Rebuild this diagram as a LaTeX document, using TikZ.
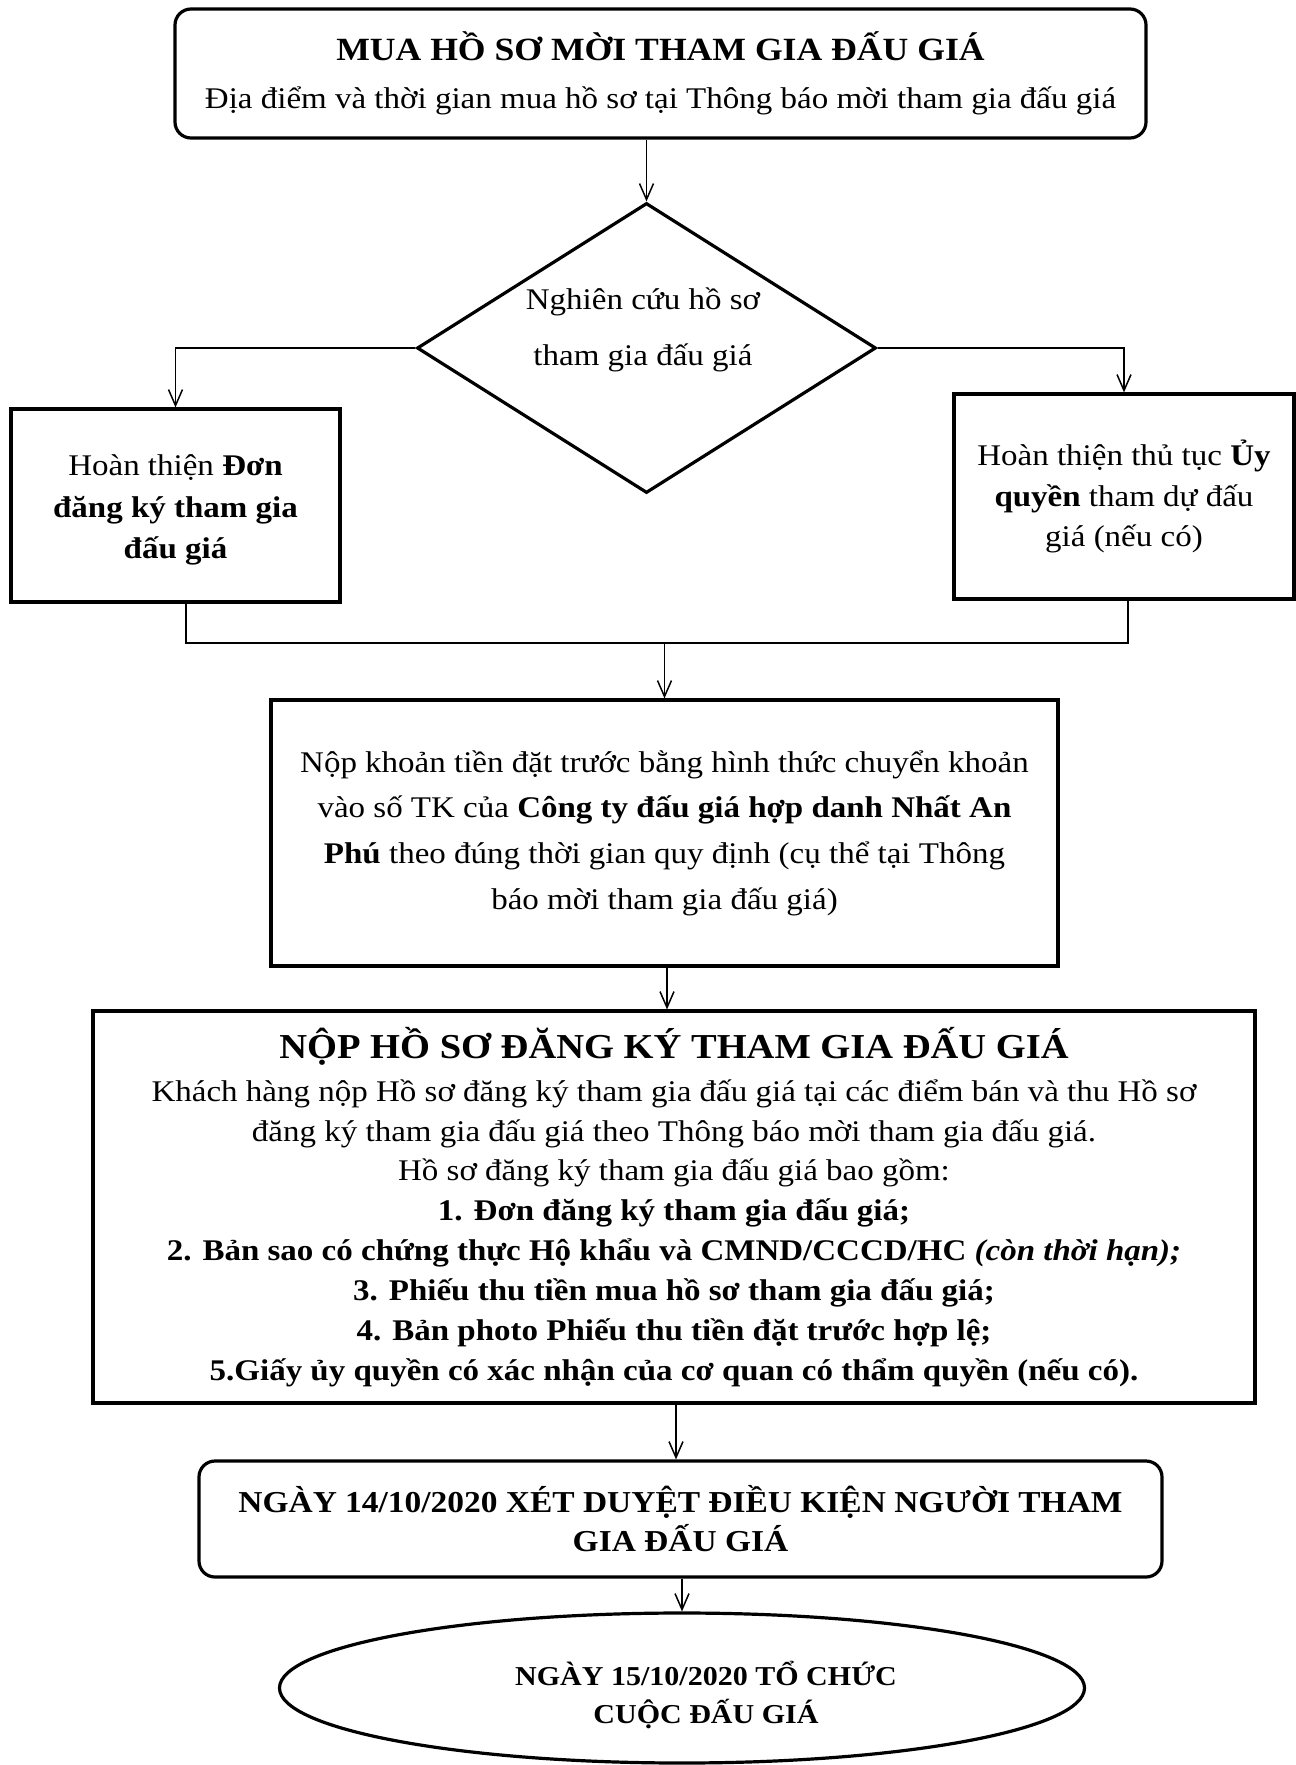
\documentclass[tikz,border=0pt]{standalone}
\usepackage{fontspec}
\setmainfont{Liberation Serif}[FakeStretch=1.1]
\usetikzlibrary{shapes.geometric,arrows.meta}
\begin{document}
\begin{tikzpicture}[x=1pt,y=-1pt,
  box/.style={draw, line width=3.2pt, inner sep=0pt, align=center, rectangle},
  rbox/.style={box, rounded corners=16pt},
  conn/.style={line width=1.5pt},
  arr/.style={conn, -{Straight Barb[length=16pt,width=14pt,line width=1.5pt]}},
  ]
\useasboundingbox (0,0) rectangle (1296,1765);
\fill[white] (0,0) rectangle (1296,1765);

\node[rbox, minimum width=971pt, minimum height=129pt, font=\fontsize{30}{48}\selectfont] (top) at (660.5,73.5)
  {{\fontsize{32.4}{48}\selectfont\bfseries MUA HỒ SƠ MỜI THAM GIA ĐẤU GIÁ}\\
   Địa điểm và thời gian mua hồ sơ tại Thông báo mời tham gia đấu giá};

\node[draw, diamond, aspect=1.583, line width=3.2pt, inner sep=0pt, minimum width=459pt, minimum height=290pt] (dia) at (646.5,348) {};
\node[align=center, font=\fontsize{30}{56}\selectfont] (diatext) at (643,330) {Nghiên cứu hồ sơ\\tham gia đấu giá};

\node[box, minimum width=329pt, minimum height=193pt] (left) at (175.5,505.5) {};
\node[align=center, font=\fontsize{30}{41.5}\selectfont] (lefttext) at (175.5,510)
  {Hoàn thiện \textbf{Đơn}\\\textbf{đăng ký tham gia}\\\textbf{đấu giá}};

\node[box, minimum width=340pt, minimum height=205pt, font=\fontsize{30}{40.5}\selectfont] (right) at (1124,496.5)
  {Hoàn thiện thủ tục \textbf{Ủy}\\\textbf{quyền} tham dự đấu\\giá (nếu có)};

\node[box, minimum width=787pt, minimum height=266pt, font=\fontsize{30}{45.7}\selectfont] (b3) at (664.5,833)
  {Nộp khoản tiền đặt trước bằng hình thức chuyển khoản\\
   vào số TK của \textbf{Công ty đấu giá hợp danh Nhất An}\\
   \textbf{Phú} theo đúng thời gian quy định (cụ thể tại Thông\\
   báo mời tham gia đấu giá)};

\node[box, minimum width=1162pt, minimum height=392pt, font=\fontsize{30}{39.9}\selectfont] (b4) at (674,1207)
  {{\fontsize{35}{39.9}\selectfont\bfseries NỘP HỒ SƠ ĐĂNG KÝ THAM GIA ĐẤU GIÁ}\\[3pt]
   Khách hàng nộp Hồ sơ đăng ký tham gia đấu giá tại các điểm bán và thu Hồ sơ\\
   đăng ký tham gia đấu giá theo Thông báo mời tham gia đấu giá.\\
   Hồ sơ đăng ký tham gia đấu giá bao gồm:\\
   \textbf{1. Đơn đăng ký tham gia đấu giá;}\\
   \textbf{2. Bản sao có chứng thực Hộ khẩu và CMND/CCCD/HC \textit{(còn thời hạn);}}\\
   \textbf{3. Phiếu thu tiền mua hồ sơ tham gia đấu giá;}\\
   \textbf{4. Bản photo Phiếu thu tiền đặt trước hợp lệ;}\\
   \textbf{5.Giấy ủy quyền có xác nhận của cơ quan có thẩm quyền (nếu có).}};

\node[rbox, minimum width=963pt, minimum height=116pt, font=\fontsize{30.4}{39}\selectfont\bfseries] (b5) at (680.5,1519)
  {NGÀY 14/10/2020 XÉT DUYỆT ĐIỀU KIỆN NGƯỜI THAM\\GIA ĐẤU GIÁ};

\node[draw, ellipse, line width=3.2pt, inner sep=0pt, minimum width=805pt, minimum height=150pt] (ell) at (682,1688) {};
\node[align=center, font=\fontsize{27.3}{39}\selectfont\bfseries] (elltext) at (706,1695) {NGÀY 15/10/2020 TỔ CHỨC\\CUỘC ĐẤU GIÁ};

\coordinate (join) at (664.5,643);
\draw[arr] (top.south -| dia.north) -- (dia.north);
\draw[arr] (dia.west) -| (left.north);
\draw[arr] (dia.east) -| (right.north);
\draw[conn] ([xshift=10.5pt]left.south) |- (join) -| ([xshift=4pt]right.south);
\draw[arr] (join) -- (b3.north);
\draw[arr] ([xshift=2.5pt]b3.south) -- ([xshift=2.5pt]b3.south |- b4.north);
\draw[arr] ([xshift=2pt]b4.south) -- ([xshift=2pt]b4.south |- b5.north);
\draw[arr] (b5.south -| ell.north) -- (ell.north);
\end{tikzpicture}
\end{document}
